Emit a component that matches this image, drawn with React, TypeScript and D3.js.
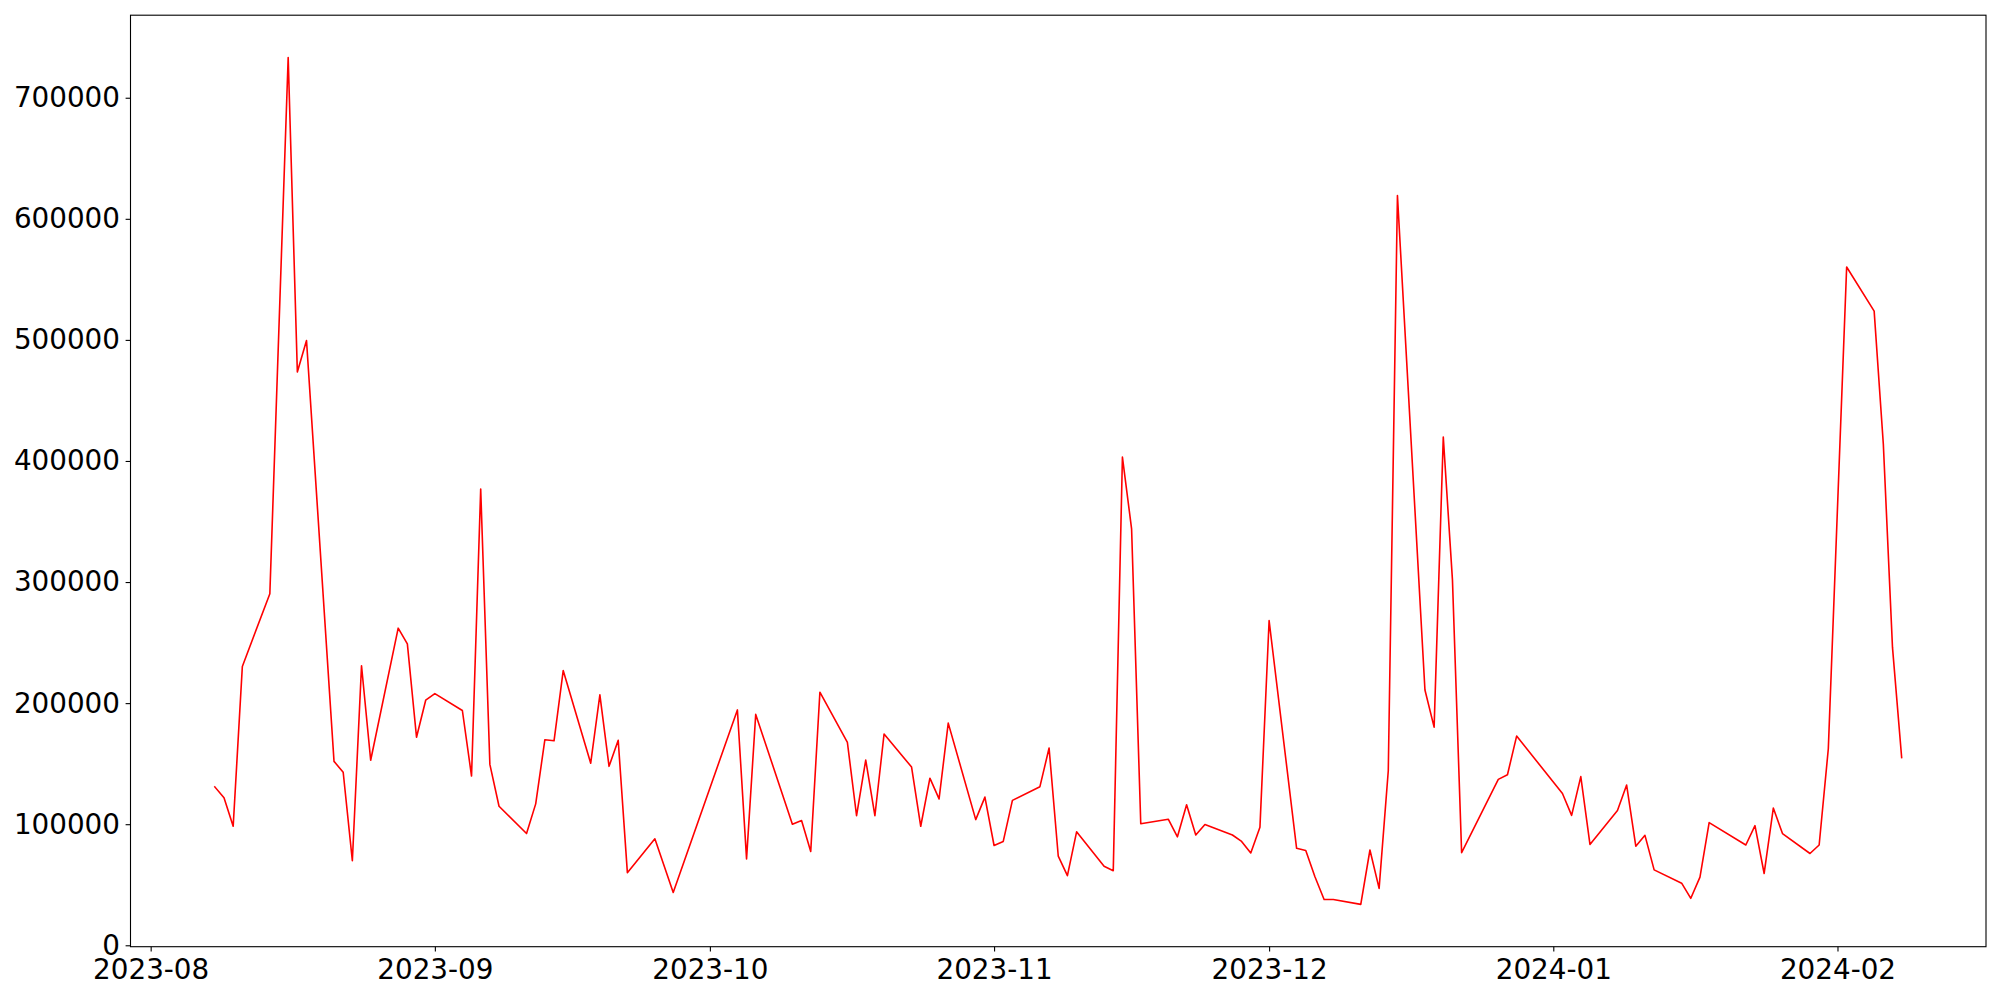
import React, { useEffect, useRef } from 'react';
import * as d3 from 'd3';

// trading days (gaps = weekends / holidays)
const dates = [
  '2023-08-08', '2023-08-09', '2023-08-10', '2023-08-11', '2023-08-14', '2023-08-16', '2023-08-17', '2023-08-18',
  '2023-08-21', '2023-08-22', '2023-08-23', '2023-08-24', '2023-08-25', '2023-08-28', '2023-08-29', '2023-08-30',
  '2023-08-31', '2023-09-01', '2023-09-04', '2023-09-05', '2023-09-06', '2023-09-07', '2023-09-08', '2023-09-11',
  '2023-09-12', '2023-09-13', '2023-09-14', '2023-09-15', '2023-09-18', '2023-09-19', '2023-09-20', '2023-09-21',
  '2023-09-22', '2023-09-25', '2023-09-27', '2023-10-04', '2023-10-05', '2023-10-06', '2023-10-10', '2023-10-11',
  '2023-10-12', '2023-10-13', '2023-10-16', '2023-10-17', '2023-10-18', '2023-10-19', '2023-10-20', '2023-10-23',
  '2023-10-24', '2023-10-25', '2023-10-26', '2023-10-27', '2023-10-30', '2023-10-31', '2023-11-01', '2023-11-02',
  '2023-11-03', '2023-11-06', '2023-11-07', '2023-11-08', '2023-11-09', '2023-11-10', '2023-11-13', '2023-11-14',
  '2023-11-15', '2023-11-16', '2023-11-17', '2023-11-20', '2023-11-21', '2023-11-22', '2023-11-23', '2023-11-24',
  '2023-11-27', '2023-11-28', '2023-11-29', '2023-11-30', '2023-12-01', '2023-12-04', '2023-12-05', '2023-12-06',
  '2023-12-07', '2023-12-08', '2023-12-11', '2023-12-12', '2023-12-13', '2023-12-14', '2023-12-15', '2023-12-18',
  '2023-12-19', '2023-12-20', '2023-12-21', '2023-12-22', '2023-12-26', '2023-12-27', '2023-12-28', '2024-01-02',
  '2024-01-03', '2024-01-04', '2024-01-05', '2024-01-08', '2024-01-09', '2024-01-10', '2024-01-11', '2024-01-12',
  '2024-01-15', '2024-01-16', '2024-01-17', '2024-01-18', '2024-01-22', '2024-01-23', '2024-01-24', '2024-01-25',
  '2024-01-26', '2024-01-29', '2024-01-30', '2024-01-31', '2024-02-02', '2024-02-05', '2024-02-06', '2024-02-07',
  '2024-02-08',
];

const values = [
  130800, 121800, 98300, 230300, 290400, 733200, 473500, 499500,
  151900, 142900, 69800, 230900, 152800, 261900, 248900, 171800,
  202400, 207900, 193900, 139800, 376900, 149400, 114800, 92300,
  116800, 169800, 168900, 226900, 150400, 206800, 147800, 169300,
  60000, 87900, 43600, 194400, 71400, 190700, 100000, 103000,
  77500, 209000, 167500, 107000, 153000, 107000, 174500, 147200,
  98300, 138000, 120900, 183500, 103800, 122400, 82400, 85800,
  119700, 131000, 162900, 73700, 57500, 93700, 65300, 61600,
  403200, 344000, 100400, 104100, 89600, 116000, 91100, 99800,
  91100, 85800, 76300, 97400, 268100, 80100, 78300, 56600,
  37800, 37800, 33800, 78700, 47000, 144200, 619200, 210800,
  180200, 419700, 301800, 76500, 137000, 140800, 172800, 125400,
  107300, 139300, 83300, 111300, 132300, 81800, 90800, 62300,
  51300, 38800, 56300, 101300, 82800, 98800, 59300, 113300,
  92300, 75800, 82800, 162300, 560200, 523800, 414000, 246000,
  155000,
];

const monthTicks = ['2023-08-01', '2023-09-01', '2023-10-01', '2023-11-01', '2023-12-01', '2024-01-01', '2024-02-01'];
const yTicks = [0, 100000, 200000, 300000, 400000, 500000, 600000, 700000];

const parse = d3.utcParse('%Y-%m-%d');

const App: React.FC = () => {
  const svgRef = useRef<SVGSVGElement | null>(null);

  useEffect(() => {
    if (!svgRef.current) return;
    const svg = d3.select(svgRef.current);
    svg.selectAll('*').remove();

    const width = 2000;
    const height = 1000;
    const margin = { top: 15.2, right: 14, bottom: 53.3, left: 130.5 };
    const fontSize = 27.8;

    const data = dates.map((d, i) => ({ date: parse(d) as Date, value: values[i] }));

    // matplotlib-style 5% margins
    const t0 = data[0].date.getTime();
    const t1 = data[data.length - 1].date.getTime();
    const tPad = (t1 - t0) * 0.05;
    const vMin = d3.min(values) as number;
    const vMax = d3.max(values) as number;
    const vPad = (vMax - vMin) * 0.05;

    const x = d3.scaleUtc()
      .domain([new Date(t0 - tPad), new Date(t1 + tPad)])
      .range([margin.left, width - margin.right]);

    const y = d3.scaleLinear()
      .domain([vMin - vPad, vMax + vPad])
      .range([height - margin.bottom, margin.top]);

    const xAxis = (g: any) => g
      .attr('transform', `translate(0,${height - margin.bottom})`)
      .call(d3.axisBottom(x)
        .tickValues(monthTicks.map(m => parse(m) as Date))
        .tickFormat(d3.utcFormat('%Y-%m') as any)
        .tickSize(4.9)
        .tickPadding(7.7))
      .call((g: any) => g.select('.domain').remove());

    const yAxis = (g: any) => g
      .attr('transform', `translate(${margin.left},0)`)
      .call(d3.axisLeft(y)
        .tickValues(yTicks)
        .tickFormat(d3.format('d') as any)
        .tickSize(4.9)
        .tickPadding(5.6))
      .call((g: any) => g.select('.domain').remove());

    svg.append('rect')
      .attr('width', width)
      .attr('height', height)
      .attr('fill', '#fff');

    // the red series
    const line = d3.line<{ date: Date; value: number }>()
      .x(d => x(d.date))
      .y(d => y(d.value));

    svg.append('path')
      .datum(data)
      .attr('fill', 'none')
      .attr('stroke', '#ff0000')
      .attr('stroke-width', 1.6)
      .attr('stroke-linejoin', 'round')
      .attr('stroke-linecap', 'square')
      .attr('d', line);

    svg.append('g').call(xAxis);
    svg.append('g').call(yAxis);

    svg.selectAll('.tick line')
      .attr('stroke', '#000')
      .attr('stroke-width', 1.1);

    svg.selectAll('.tick text')
      .attr('fill', '#000')
      .attr('font-family', '"DejaVu Sans", sans-serif')
      .attr('font-size', fontSize);

    // frame
    svg.append('rect')
      .attr('x', margin.left)
      .attr('y', margin.top)
      .attr('width', width - margin.right - margin.left)
      .attr('height', height - margin.bottom - margin.top)
      .attr('fill', 'none')
      .attr('stroke', '#000')
      .attr('stroke-width', 1.1);
  }, []);

  return (
    <svg
      ref={svgRef}
      width={2000}
      height={1000}
      viewBox="0 0 2000 1000"
      style={{ position: 'absolute', left: 0, top: 0, display: 'block' }}
    />
  );
};

export default App;
